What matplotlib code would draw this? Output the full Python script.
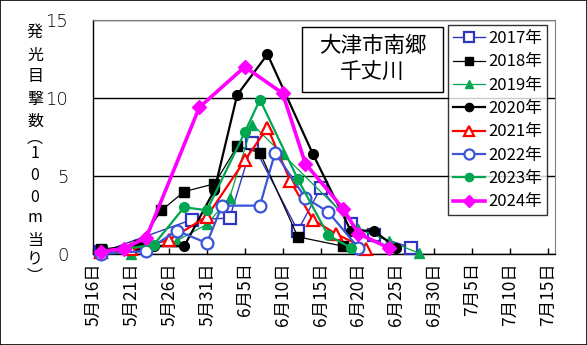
import datetime as dt
import matplotlib
matplotlib.use("Agg")
import matplotlib.pyplot as plt
import matplotlib.dates as mdates
from matplotlib.patches import Rectangle

plt.rcParams['font.family'] = ['Noto Sans CJK JP', 'DejaVu Sans']

d2017 = ["5/17", "5/29", "6/3", "6/6", "6/12", "6/15", "6/19", "6/22", "6/27"]
v2017 = [0.1, 2.2, 2.3, 7.1, 1.5, 4.2, 1.9, 1.2, 0.4]
d2018 = ["5/17", "5/22", "5/25", "5/28", "6/1", "6/4", "6/7", "6/12", "6/18"]
v2018 = [0.3, 0.6, 2.8, 4.0, 4.5, 6.9, 6.5, 1.1, 0.5]
d2019 = ["5/17", "5/21", "5/27", "5/31", "6/3", "6/6", "6/10", "6/20", "6/24", "6/28"]
v2019 = [0.2, 0.0, 0.85, 1.9, 3.6, 8.3, 6.4, 1.6, 0.85, 0.05]
d2020 = ["5/17", "5/21", "5/24", "5/28", "6/1", "6/4", "6/8", "6/14", "6/19", "6/22", "6/25"]
v2020 = [0.1, 0.3, 0.5, 0.5, 4.1, 10.2, 12.8, 6.4, 1.5, 1.5, 0.4]
d2021 = ["5/17", "5/21", "5/26", "5/31", "6/5", "6/8", "6/11", "6/14", "6/17", "6/21"]
v2021 = [0.1, 0.3, 0.9, 2.4, 6.0, 8.1, 4.7, 2.2, 1.3, 0.35]
d2022 = ["5/17", "5/23", "5/27", "5/31", "6/2", "6/7", "6/9", "6/13", "6/16", "6/20"]
v2022 = [0.0, 0.2, 1.5, 0.7, 3.1, 3.1, 6.5, 3.6, 2.7, 0.4]
d2023 = ["5/17", "5/24", "5/28", "5/31", "6/5", "6/7", "6/12", "6/16", "6/19"]
v2023 = [0.1, 0.6, 3.0, 2.8, 7.8, 9.9, 4.8, 1.2, 0.4]
d2024 = ["5/17", "5/20", "5/23", "5/30", "6/5", "6/10", "6/13", "6/18", "6/20", "6/24"]
v2024 = [0.15, 0.35, 1.05, 9.4, 12.0, 10.3, 5.8, 2.9, 1.3, 0.4]

y_ticks = [0, 5, 10, 15]
title_lines = ["大津市南郷", "千丈川"]
ylabel_chars = ["発", "光", "目", "撃", "数", "︵", "1", "0", "0", "m", "当", "り", "︶"]


def to_dates(lst):
    out = []
    for s in lst:
        m, d = s.split("/")
        out.append(dt.datetime(2024, int(m), int(d)))
    return out


fig = plt.figure(figsize=(5.87, 3.45), dpi=100)
fig.patches.append(Rectangle((0, 0), 1, 1, transform=fig.transFigure,
                             fill=False, ec='black', lw=1.2))
W, H = 587.0, 345.0
ax = fig.add_axes([93.3 / W, 1 - 254 / H, 462 / W, 234 / H])

blue1 = '#2E36C0'
blue2 = '#3A55D8'
green = '#00A650'

series = [
    ("2017年", d2017, v2017, dict(color=blue1, lw=1.0, marker='s', ms=8, mfc='white', mec=blue1, mew=1.6)),
    ("2018年", d2018, v2018, dict(color='black', lw=0.9, marker='s', ms=7.5, mfc='black', mec='black')),
    ("2019年", d2019, v2019, dict(color=green, lw=0.9, marker='^', ms=7.5, mfc=green, mec=green)),
    ("2020年", d2020, v2020, dict(color='black', lw=1.6, marker='o', ms=7, mfc='black', mec='black')),
    ("2021年", d2021, v2021, dict(color='#FF0000', lw=1.6, marker='^', ms=9, mfc='white', mec='#FF0000', mew=1.6)),
    ("2022年", d2022, v2022, dict(color=blue2, lw=1.6, marker='o', ms=8.5, mfc='white', mec=blue2, mew=1.6)),
    ("2023年", d2023, v2023, dict(color=green, lw=1.6, marker='o', ms=7, mfc=green, mec=green)),
    ("2024年", d2024, v2024, dict(color='#FF00FF', lw=2.6, marker='D', ms=7.5, mfc='#FF00FF', mec='#FF00FF')),
]
for i, (lab, ds, vs, st) in enumerate(series):
    ax.plot(to_dates(ds), vs, label=lab, clip_on=False, zorder=3 + i, **st)

ax.set_ylim(0, 15)
ax.set_xlim(dt.datetime(2024, 5, 16), dt.datetime(2024, 7, 16))
ax.set_yticks(y_ticks)
ax.yaxis.grid(True, color='black', lw=1.0)
ax.set_axisbelow(True)

xt = [dt.datetime(2024, 5, 16) + dt.timedelta(days=5 * k) for k in range(13)]
ax.set_xticks(xt)
ax.xaxis.set_major_formatter(plt.FuncFormatter(
    lambda x, p: "{}月{}日".format(mdates.num2date(x).month, mdates.num2date(x).day)))
ax.tick_params(axis='x', direction='in', length=4, width=1, pad=6, labelsize=12.5, labelrotation=90)
ax.tick_params(axis='y', length=0, pad=18, labelsize=13)
for t in ax.get_yticklabels():
    t.set_fontfamily(['DejaVu Sans'])
    t.set_fontweight('light')

for s in ['top', 'right']:
    ax.spines[s].set_color('#808080')
for s in ['left', 'bottom']:
    ax.spines[s].set_color('black')
    ax.spines[s].set_linewidth(1.0)

# y-axis label, stacked vertically one character at a time
ys = [32, 55, 77, 100, 121, 138, 154, 176, 197, 218, 241, 259, 276]
for ch, yy in zip(ylabel_chars, ys):
    fig.text(35 / W, 1 - yy / H, ch, ha='center', va='center', fontsize=11.5)

# title box
fig.patches.append(Rectangle((302 / W, 1 - 92 / H), 141 / W, 65 / H, transform=fig.transFigure,
                             fill=True, fc='white', ec='black', lw=1.0, zorder=10))
fig.text(372.5 / W, 1 - 46 / H, title_lines[0], ha='center', va='center', fontsize=15.5, zorder=11)
fig.text(372.5 / W, 1 - 73 / H, title_lines[1], ha='center', va='center', fontsize=15.5, zorder=11)

leg = ax.legend(loc='upper left', bbox_to_anchor=(448 / W, 1 - 25 / H), bbox_transform=fig.transFigure,
                borderaxespad=0, frameon=True, fancybox=False, fontsize=12, handlelength=1.9,
                handletextpad=0.2, labelspacing=0.38, borderpad=0.3, markerscale=0.85)
leg.get_frame().set_edgecolor('black')
leg.get_frame().set_linewidth(1.0)
leg.set_zorder(20)

fig.savefig("out.png", dpi=100)
